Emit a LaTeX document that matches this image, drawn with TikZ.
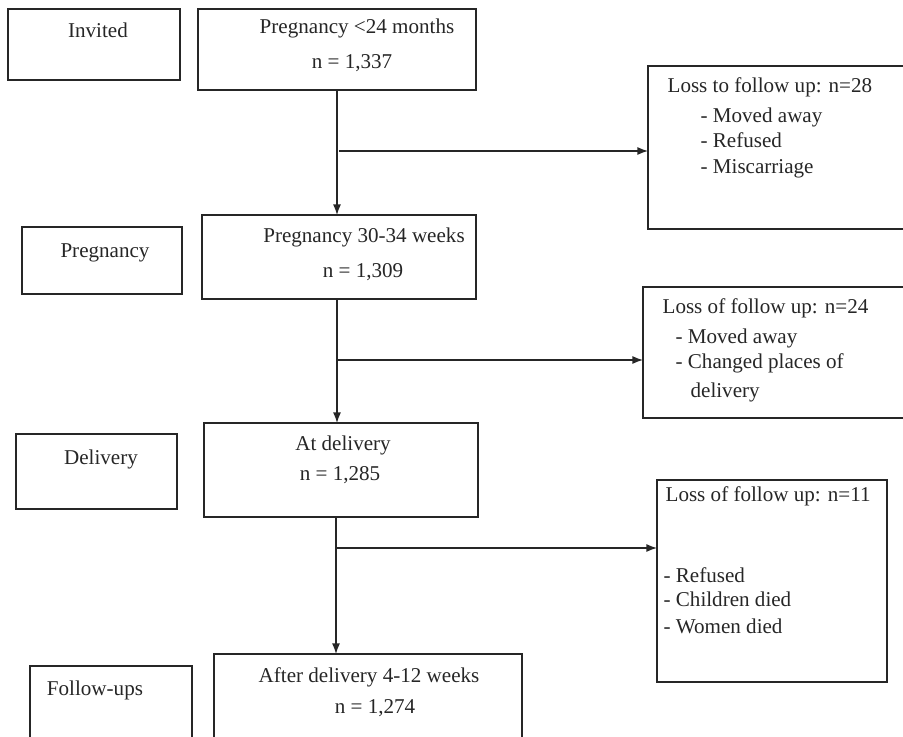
\documentclass[tikz,border=0pt]{standalone}
\usepackage{fontspec}
\setmainfont{Liberation Serif}
\usetikzlibrary{arrows.meta}

\begin{document}
\begin{tikzpicture}[x=0.02cm, y=-0.02cm, color=black!85, line width=0.7pt,
  font=\fontsize{12}{14}\selectfont,
  box/.style={draw, rectangle, outer sep=0pt, inner sep=0pt},
  txt/.style={inner sep=0pt, anchor=mid},
  lst/.style={inner sep=0pt, anchor=mid west},
  arr/.style={-{Latex[length=6pt,width=4.5pt]}}]
\useasboundingbox (0,0) rectangle (903,737);

% stage boxes
\node[box, minimum width=3.44cm, minimum height=1.42cm] (inv) at (94,44.5) {};
\node[txt] (invT) at (98,33) {Invited};
\node[box, minimum width=3.2cm, minimum height=1.34cm] (preg) at (102,260.5) {};
\node[txt] (pregT) at (105,253) {Pregnancy};
\node[box, minimum width=3.22cm, minimum height=1.5cm] (deliv) at (96.5,471.5) {};
\node[txt] (delivT) at (101,460) {Delivery};
\node[box, minimum width=3.24cm, minimum height=1.88cm] (fu) at (111,713) {};
\node[txt] (fuT) at (95,691) {Follow-ups};

% main boxes
\node[box, minimum width=5.56cm, minimum height=1.62cm] (p24) at (337,49.5) {};
\node[txt] (p24a) at (357,29) {Pregnancy <24 months};
\node[txt] (p24b) at (352,64) {n = 1,337};
\node[box, minimum width=5.48cm, minimum height=1.68cm] (p30) at (339,257) {};
\node[txt] (p30a) at (364,238) {Pregnancy 30-34 weeks};
\node[txt] (p30b) at (363,273) {n = 1,309};
\node[box, minimum width=5.48cm, minimum height=1.88cm] (atd) at (341,470) {};
\node[txt] (atda) at (343,446) {At delivery};
\node[txt] (atdb) at (340,476) {n = 1,285};
\node[box, minimum width=6.16cm, minimum height=2.12cm] (aft) at (368,707) {};
\node[txt] (afta) at (369,678) {After delivery 4-12 weeks};
\node[txt] (aftb) at (375,709) {n = 1,274};

% losses
\node[box, minimum width=5.34cm, minimum height=3.26cm] (l1) at (781.5,147.5) {};
\node[lst] (l1h) at (667,88) {Loss to follow up: n=28};
\node[lst] (l1a) at (700,118) {- Moved away};
\node[lst] (l1b) at (700,143) {- Refused};
\node[lst] (l1c) at (700,169) {- Miscarriage};
\node[box, minimum width=5.44cm, minimum height=2.62cm] (l2) at (779,352.5) {};
\node[lst] (l2h) at (662,309) {Loss of follow up: n=24};
\node[lst] (l2a) at (675,339) {- Moved away};
\node[lst] (l2b) at (675,364) {- Changed places of};
\node[lst] (l2c) at (690,393) {delivery};
\node[box, minimum width=4.6cm, minimum height=4.04cm] (l3) at (772,581) {};
\node[lst] (l3h) at (665,497) {Loss of follow up: n=11};
\node[lst] (l3a) at (663,578) {- Refused};
\node[lst] (l3b) at (663,602) {- Children died};
\node[lst] (l3c) at (663,629) {- Women died};

% connectors
\coordinate (j1) at (339,151);
\coordinate (j2) at (337,360);
\coordinate (j3) at (336,548);
\draw[arr] (p24.south) -- (p24.south |- p30.north);
\draw[arr] (j1) -- (j1 -| l1.west);
\draw[arr] (j2 |- p30.south) -- (j2 |- atd.north);
\draw[arr] (j2) -- (j2 -| l2.west);
\draw[arr] (j3 |- atd.south) -- (j3 |- aft.north);
\draw[arr] (j3) -- (j3 -| l3.west);
\end{tikzpicture}
\end{document}
